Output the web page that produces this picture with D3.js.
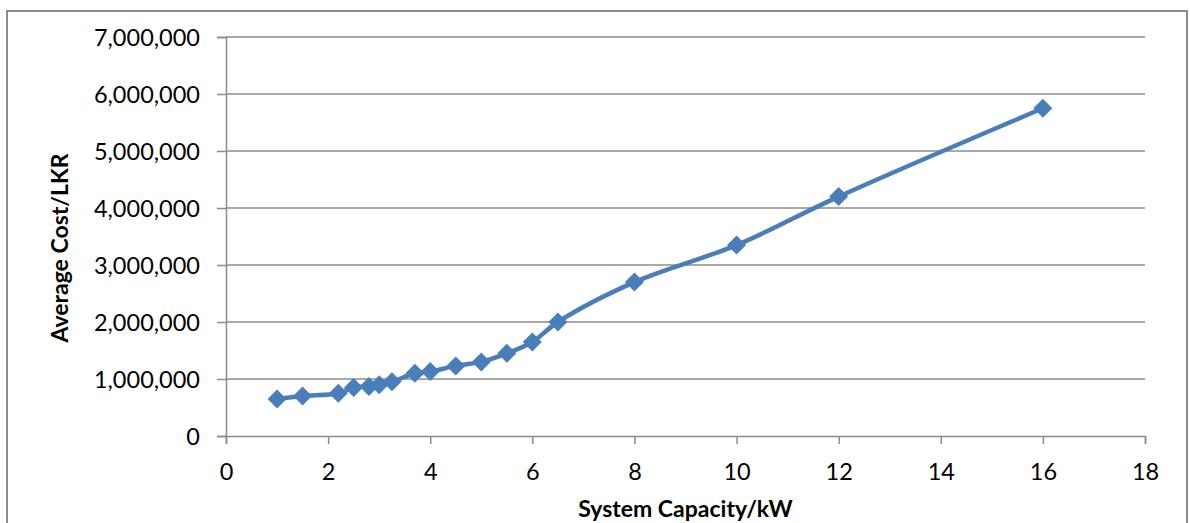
<!DOCTYPE html>
<html>
<head>
<meta charset="utf-8">
<script src="https://cdn.jsdelivr.net/npm/d3@7"></script>
<style>
  html, body { margin: 0; padding: 0; background: #fff; }
  svg { display: block; font-family: Lato, "Open Sans", sans-serif; }
</style>
</head>
<body>
<svg id="chart" width="1190" height="523"></svg>
<script>
// System capacity (kW) and the average installed cost (LKR)
const capacityKW = [1, 1.5, 2.2, 2.5, 2.8, 3, 3.25, 3.7, 4, 4.5, 5, 5.5, 6, 6.5, 8, 10, 12, 16];
const averageCostLKR = [650000, 700000, 750000, 850000, 870000, 900000, 950000, 1100000, 1130000,
                        1230000, 1300000, 1450000, 1650000, 2000000, 2700000, 3350000, 4200000, 5750000];
const xTicks = [0, 2, 4, 6, 8, 10, 12, 14, 16, 18];
const yTicks = [0, 1000000, 2000000, 3000000, 4000000, 5000000, 6000000, 7000000];

const xTitle = "System Capacity/kW";
const yTitle = "Average Cost/LKR";

const svg = d3.select("#chart");
const plot = { left: 226, right: 1145, top: 37, bottom: 436 };

const x = d3.scaleLinear().domain([0, 18]).range([plot.left, plot.right]);
const y = d3.scaleLinear().domain([0, 7000000]).range([plot.bottom, plot.top]);

const gridColor = "#8c8c8c";
const seriesColor = "#4a7ebb";

// chart frame
svg.append("rect")
  .attr("x", 7).attr("y", 11)
  .attr("width", 1180).attr("height", 530)
  .attr("fill", "#fff")
  .attr("stroke", gridColor).attr("stroke-width", 2);

// horizontal gridlines
svg.append("g")
  .selectAll("line")
  .data(yTicks.filter(d => d > 0))
  .join("line")
  .attr("x1", plot.left).attr("x2", plot.right)
  .attr("y1", d => y(d)).attr("y2", d => y(d))
  .attr("stroke", gridColor).attr("stroke-width", 1.5);

// y axis
const yAxis = svg.append("g")
  .attr("transform", `translate(${plot.left},0)`)
  .call(d3.axisLeft(y).tickValues(yTicks).tickSize(9).tickPadding(17)
    .tickFormat(d3.format(",")));
yAxis.select(".domain").attr("stroke", gridColor).attr("stroke-width", 1.5);
yAxis.selectAll(".tick line").attr("stroke", gridColor).attr("stroke-width", 1.5);
yAxis.selectAll(".tick text")
  .attr("font-size", 23.5).attr("fill", "#000")
  .attr("font-family", "Lato, sans-serif")
  .attr("dy", "0.35em");

// x axis
const xAxis = svg.append("g")
  .attr("transform", `translate(0,${plot.bottom})`)
  .call(d3.axisBottom(x).tickValues(xTicks).tickSize(8).tickPadding(19)
    .tickFormat(d3.format("d")));
xAxis.select(".domain").attr("stroke", gridColor).attr("stroke-width", 1.5);
xAxis.selectAll(".tick line").attr("stroke", gridColor).attr("stroke-width", 1.5);
xAxis.selectAll(".tick text")
  .attr("font-size", 23.5).attr("fill", "#000")
  .attr("font-family", "Lato, sans-serif");

// axis titles
svg.append("text")
  .attr("x", (plot.left + plot.right) / 2).attr("y", 517)
  .attr("text-anchor", "middle")
  .attr("font-size", 23).attr("font-weight", "bold")
  .text(xTitle);

svg.append("text")
  .attr("transform", `translate(68,248) rotate(-90)`)
  .attr("text-anchor", "middle")
  .attr("font-size", 23).attr("font-weight", "bold")
  .text(yTitle);

// smoothed series line
const points = capacityKW.map((c, i) => [c, averageCostLKR[i]]);
const line = d3.line()
  .x(d => x(d[0])).y(d => y(d[1]))
  .curve(d3.curveCatmullRom.alpha(0.5));

svg.append("path")
  .datum(points)
  .attr("d", line)
  .attr("fill", "none")
  .attr("stroke", seriesColor)
  .attr("stroke-width", 4.5)
  .attr("stroke-linejoin", "round");

// diamond markers
const diamond = d3.symbol().type(d3.symbolSquare).size(180);
svg.append("g")
  .selectAll("path")
  .data(points)
  .join("path")
  .attr("d", diamond)
  .attr("transform", d => `translate(${x(d[0])},${y(d[1])}) rotate(45)`)
  .attr("fill", seriesColor);
</script>
</body>
</html>
